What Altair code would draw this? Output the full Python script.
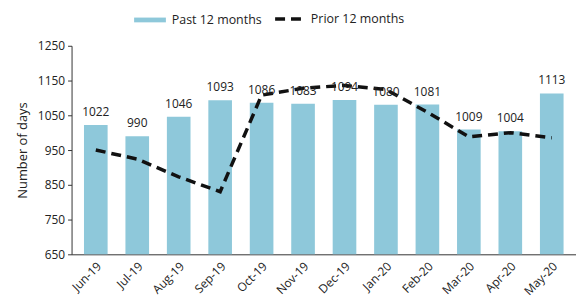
import altair as alt
import pandas as pd

months = ["Jun-19", "Jul-19", "Aug-19", "Sep-19", "Oct-19", "Nov-19",
          "Dec-19", "Jan-20", "Feb-20", "Mar-20", "Apr-20", "May-20"]
past = [1022, 990, 1046, 1093, 1086, 1083, 1094, 1080, 1081, 1009, 1004, 1113]
prior = [950, 924, 873, 830, 1108, 1128, 1136, 1124, 1059, 988, 1000, 985]
y_ticks = [650, 750, 850, 950, 1050, 1150, 1250]

df = pd.DataFrame({"month": months, "past": past, "prior": prior,
                   "s1": "Past 12 months", "s2": "Prior 12 months"})

FONT = "Open Sans"
BAR = "#8ec8da"

x = alt.X("month:N", sort=months, title=None,
          scale=alt.Scale(paddingInner=0.43, paddingOuter=0.3),
          axis=alt.Axis(labelAngle=-45, ticks=False, labelFontSize=12,
                        labelColor="#222", domainColor="#333", labelPadding=6))

base = alt.Chart(df).encode(x=x)

yscale = alt.Scale(domain=[650, 1250], zero=False, nice=False)
yaxis = alt.Axis(values=y_ticks, format="d", labelOverlap=False,
                 grid=False, labelFontSize=12, labelColor="#222",
                 titleFontSize=13, titleFontWeight="normal", titleColor="#222",
                 domainColor="#333", tickColor="#333", tickSize=4,
                 labelPadding=3, titlePadding=8)

bars = base.mark_bar().encode(
    y=alt.Y("past:Q", scale=yscale, title="Number of days", axis=yaxis),
    y2=alt.datum(650),
    fill=alt.Fill("s1:N", scale=alt.Scale(domain=["Past 12 months"], range=[BAR]),
                  legend=alt.Legend(title=None, orient="none", legendX=63, legendY=-42,
                                    symbolType="M-1,-0.15H1V0.15H-1Z", symbolSize=1024,
                                    symbolStrokeWidth=0, labelFontSize=12.5,
                                    labelColor="#222", labelFont=FONT, labelOffset=6)),
)

labels = base.mark_text(baseline="bottom", dy=-6, fontSize=12, font=FONT, color="#222").encode(
    y=alt.Y("past:Q", scale=yscale, title="Number of days", axis=yaxis), text=alt.Text("past:Q")
)

line = base.mark_line(color="#111", strokeWidth=3.5).encode(
    y=alt.Y("prior:Q", scale=yscale, title="Number of days", axis=yaxis),
    strokeDash=alt.StrokeDash("s2:N", scale=alt.Scale(domain=["Prior 12 months"], range=[[10, 6]]),
                              legend=alt.Legend(title=None, orient="none", legendX=203, legendY=-42,
                                                symbolType="stroke", symbolSize=676,
                                                symbolStrokeColor="#111", symbolStrokeWidth=3.5,
                                                labelFontSize=12.5, labelColor="#222",
                                                labelFont=FONT, labelOffset=8)),
)

chart = alt.layer(bars, line, labels).properties(
    width=508, height=210,
    autosize=alt.AutoSizeParams(type="none"),
    padding={"left": 64, "top": 37, "right": 0, "bottom": 50},
).configure(font=FONT).configure_view(stroke=None).configure_axis(labelFont=FONT, titleFont=FONT)

chart.save("out.html", embed_options={"renderer": "svg", "actions": False})
